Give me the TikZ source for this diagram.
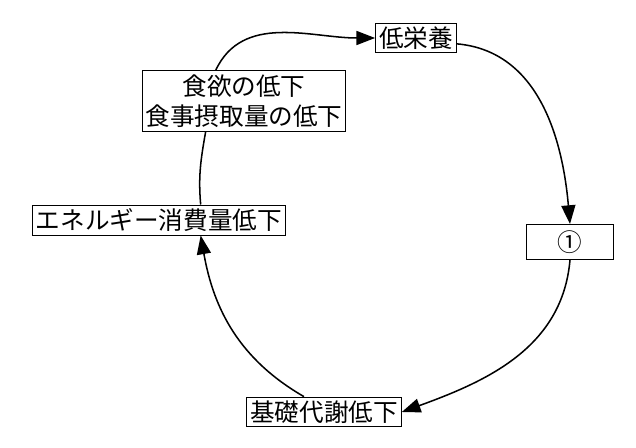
\documentclass[tikz,border=0pt]{standalone}
\usepackage{fontspec}
\setmainfont{Noto Sans CJK JP}
\usetikzlibrary{arrows.meta}
\begin{document}
\begin{tikzpicture}[x=0.03cm,y=-0.03cm,
  box/.style={draw,line width=0.8pt,inner xsep=3pt,inner ysep=3pt,font=\fontsize{21}{26}\selectfont,align=center},
  arr/.style={line width=1.3pt,-{Triangle[length=16pt,width=12pt]}},
  ln/.style={line width=1.3pt}]
\useasboundingbox (0,0) rectangle (636,448);
\node[box] (a) at (416,38) {低栄養};
\node[box,minimum width=2.6cm,minimum height=1.05cm] (b) at (570,242) {①};
\node[box] (c) at (324,412) {基礎代謝低下};
\node[box] (d) at (159,220) {エネルギー消費量低下};
\node[box] (e) at (244,101) {食欲の低下\\食事摂取量の低下};
\draw[arr] ([yshift=-5pt]a.east) to[out=-5,in=95] (b.north);
\draw[arr] (b.south) to[out=-95,in=20] (c.east);
\draw[arr] ([xshift=-0.6cm]c.north) to[out=150,in=-80] ([xshift=1.25cm]d.south);
\draw[ln] ([xshift=1.25cm]d.north) to[out=95,in=-100] ([xshift=-1.15cm]e.south);
\draw[arr] ([xshift=-0.85cm]e.north) to[out=65,in=180] (a.west);
\end{tikzpicture}
\end{document}
